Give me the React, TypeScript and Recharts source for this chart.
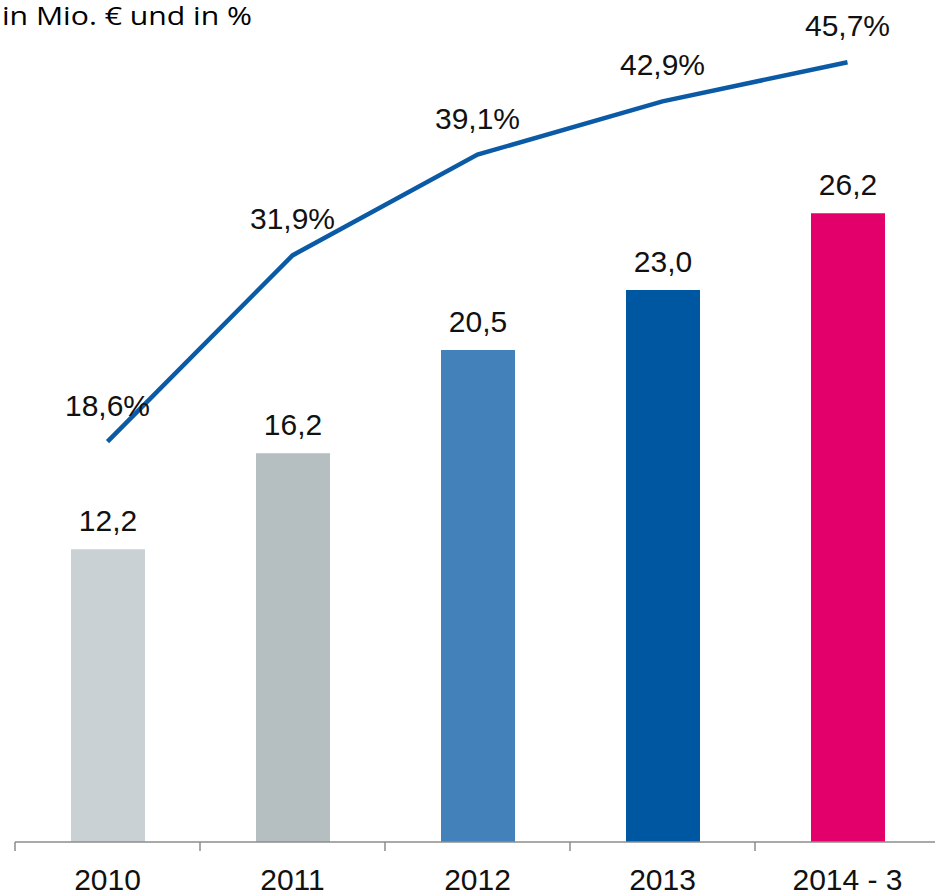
import React from "react";
import { ComposedChart, Bar, Line, XAxis, YAxis, LabelList, Cell } from "recharts";

const categories = ["2010", "2011", "2012", "2013", "2014 - 3"];
const amounts = [12.2, 16.2, 20.5, 23.0, 26.2];
const shares = [18.6, 31.9, 39.1, 42.9, 45.7];
const barColors = ["#c9d1d4", "#b5bec0", "#4281ba", "#0057a1", "#e3006b"];
const title = "in Mio. € und in %";

const data = categories.map((c, i) => ({ name: c, amount: amounts[i], share: shares[i] }));

const W = 945;
const H = 895;
const M = { top: 2, right: 5, left: 15, bottom: 0 };
const BAND = (W - M.left - M.right) / categories.length;
const FONT = "'Liberation Sans', Arial, sans-serif";

const fmt = (v: number) => v.toFixed(1).replace(".", ",");

const Tick = (props: any) => {
  const { x, y, payload, index } = props;
  const axisY = y;
  return (
    <g>
      <line x1={x - BAND / 2} x2={x - BAND / 2} y1={axisY} y2={axisY + 9} stroke="#8c8c8c" strokeWidth={1.5} />
      {index === categories.length - 1 && (
        <line x1={x + BAND / 2} x2={x + BAND / 2} y1={axisY} y2={axisY + 9} stroke="#8c8c8c" strokeWidth={1.5} />
      )}
      <text x={x} y={axisY + 48} textAnchor="middle" fontSize={30} fontFamily={FONT} fill="#111">
        {payload.value}
      </text>
    </g>
  );
};

export default function App() {
  return (
    <div style={{ position: "absolute", left: 0, top: 0, width: 935, height: H, overflow: "hidden", background: "#fff" }}>
      <ComposedChart width={W} height={H} data={data} margin={M}>
        <XAxis
          dataKey="name"
          xAxisId="x"
          axisLine={{ stroke: "#8c8c8c", strokeWidth: 1.5 }}
          tickLine={false}
          tickSize={0}
          tickMargin={0}
          tick={<Tick />}
          height={53}
          interval={0}
        />
        <YAxis yAxisId="amt" domain={[0, 35]} hide />
        <YAxis yAxisId="pct" domain={[-10, 50]} hide />
        <Bar dataKey="amount" xAxisId="x" yAxisId="amt" barSize={74} isAnimationActive={false}>
          {data.map((d, i) => (
            <Cell key={d.name} fill={barColors[i]} />
          ))}
          <LabelList
            dataKey="amount"
            position="top"
            offset={18}
            formatter={(v: any) => fmt(Number(v))}
            style={{ fontSize: 30, fontFamily: FONT, fill: "#111" }}
          />
        </Bar>
        <Line
          dataKey="share"
          xAxisId="x"
          yAxisId="pct"
          stroke="#0b5aa6"
          strokeWidth={4.5}
          dot={false}
          type="linear"
          isAnimationActive={false}
        >
          <LabelList
            dataKey="share"
            position="top"
            offset={26}
            formatter={(v: any) => fmt(Number(v)) + "%"}
            style={{ fontSize: 30, fontFamily: FONT, fill: "#111" }}
          />
        </Line>
      </ComposedChart>
      <svg width={300} height={40} style={{ position: "absolute", left: 0, top: 0 }}>
        <text
          x={2}
          y={25}
          fontSize={26}
          fontFamily="'Open Sans', sans-serif"
          fill="#000"
          textLength={250}
          lengthAdjust="spacingAndGlyphs"
        >
          {title}
        </text>
      </svg>
    </div>
  );
}
